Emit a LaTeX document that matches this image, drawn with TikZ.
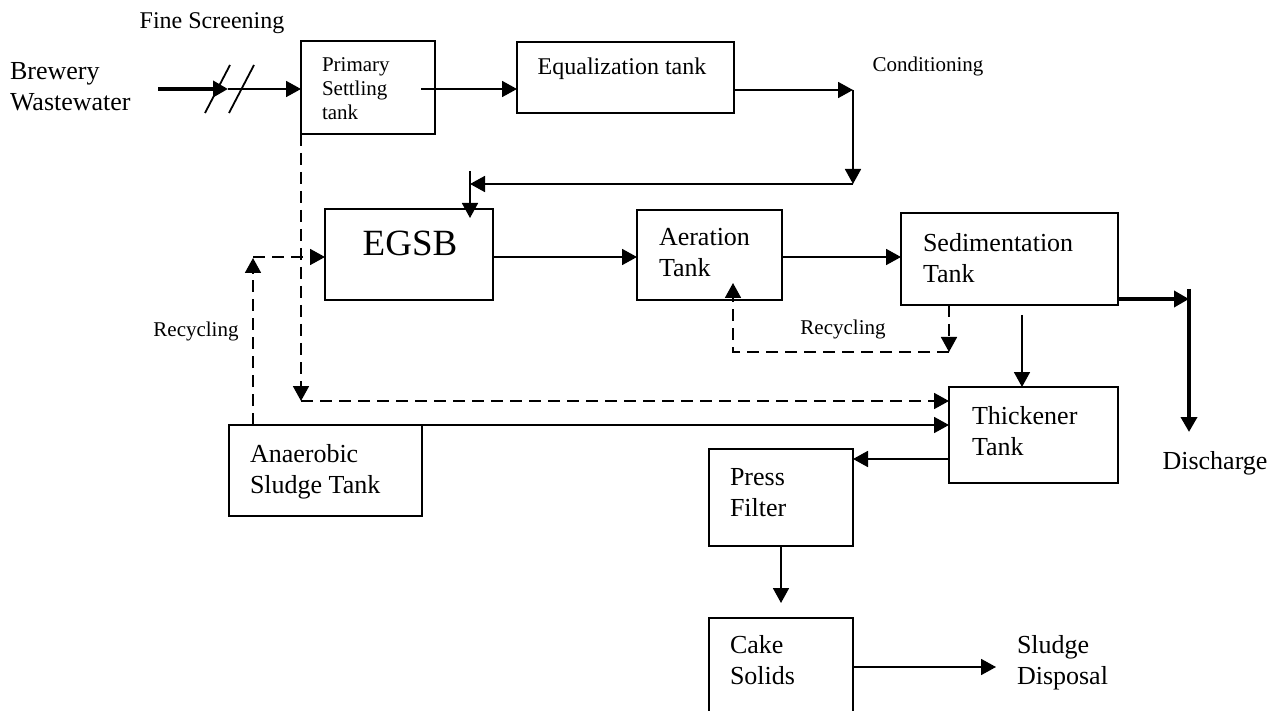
\documentclass[tikz,border=0pt]{standalone}
\usepackage{fontspec}
\setmainfont{Liberation Serif}
\usetikzlibrary{arrows.meta}
\begin{document}
\begin{tikzpicture}[x=1pt,y=-1pt,
  box/.style={draw, line width=1.8pt, inner sep=0pt, outer sep=0pt, anchor=north west},
  big/.style={inner sep=0pt, outer sep=0pt, align=left, font=\fontsize{26}{31}\selectfont},
  small/.style={inner sep=0pt, outer sep=0pt, align=left, font=\fontsize{21}{24}\selectfont},
  arr/.style={line width=1.8pt, -{Triangle[length=15pt,width=16pt]}},
  thickarr/.style={line width=3.6pt, -{Triangle[length=15pt,width=16pt]}},
  darr/.style={line width=1.8pt, dash pattern=on 12pt off 7pt, -{Triangle[length=15pt,width=16pt]}},
  plain/.style={line width=1.8pt}]
\fill[white] (0,0) rectangle (1288,711);
\useasboundingbox (0,0) rectangle (1288,711);

% boxes
\node[box, minimum width=134pt, minimum height=93pt] (prim) at (301,41) {};
\node[box, minimum width=217pt, minimum height=71pt] (eq) at (517,42) {};
\node[box, minimum width=168pt, minimum height=91pt] (egsb) at (325,209) {};
\node[box, minimum width=145pt, minimum height=90pt] (aer) at (637,210) {};
\node[box, minimum width=217pt, minimum height=92pt] (sed) at (901,213) {};
\node[box, minimum width=169pt, minimum height=96pt] (thk) at (949,387) {};
\node[box, minimum width=193pt, minimum height=91pt] (ana) at (229,425) {};
\node[box, minimum width=144pt, minimum height=97pt] (press) at (709,449) {};
\node[box, minimum width=144pt, minimum height=120pt] (cake) at (709,618) {};

% texts
\node[big, anchor=north west] (tbw) at (10,62) {\fontsize{26}{27}\selectfont Brewery\\Wastewater};
\node[big, anchor=north, font=\fontsize{24}{28}\selectfont] (tfs) at (212,13) {Fine Screening};
\node[small, anchor=north west] (tprim) at (322,58) {Primary\\Settling\\tank};
\node[big, anchor=north, font=\fontsize{24}{28}\selectfont] (teq) at (622,58) {Equalization tank};
\node[small, anchor=north] (tcond) at (928,57) {Conditioning};
\node[inner sep=0pt, font=\fontsize{37}{40}\selectfont] (tegsb) at (410,243) {EGSB};
\node[big, anchor=north west] (taer) at (659,228) {Aeration\\Tank};
\node[big, anchor=north west] (tsed) at (923,233) {Sedimentation\\Tank};
\node[small, anchor=north] (trec1) at (196,322) {Recycling};
\node[small, anchor=north] (trec2) at (843,320) {Recycling};
\node[big, anchor=north west] (tthk) at (972,406) {Thickener\\Tank};
\node[big, anchor=north west] (tana) at (250,444) {Anaerobic\\Sludge Tank};
\node[big, anchor=north] (tdis) at (1215,451) {Discharge};
\node[big, anchor=north west] (tpress) at (730,468) {Press\\Filter};
\node[big, anchor=north west] (tcake) at (730,635) {Cake\\Solids};
\node[big, anchor=north west] (tslu) at (1017,635) {Sludge\\Disposal};

% screening
\coordinate (bw) at (158,89);
\coordinate (scr) at (228,89);
\draw[thickarr] (bw) -- (scr);
\draw[arr] (scr) -- (prim.west |- scr);
\draw[plain] (205,113) -- (230,65);
\draw[plain] (229,113) -- (254,65);

% primary -> equalization
\coordinate (pe) at (421,89);
\draw[arr] (pe) -- (pe -| eq.west);

% equalization -> conditioning -> EGSB
\coordinate (c1) at (853,90);
\coordinate (c2) at (853,184);
\coordinate (c3) at (470,184);
\coordinate (c4) at (470,171);
\coordinate (c5) at (470,218);
\draw[arr] (eq.east |- c1) -- (c1);
\draw[arr] (c1) -- (c2);
\draw[arr] (c2) -- (c3);
\draw[arr] (c4) -- (c5);

% main line
\coordinate (ml) at (0,257);
\draw[arr] (egsb.east |- ml) -- (aer.west |- ml);
\draw[arr] (aer.east |- ml) -- (sed.west |- ml);

% discharge
\coordinate (d1) at (1189,299);
\coordinate (d2) at (1189,289);
\coordinate (d3) at (1189,432);
\draw[thickarr] (sed.east |- d1) -- (d1);
\draw[thickarr] (d2) -- (d3);

% sedimentation -> thickener
\coordinate (st) at (1022,315);
\draw[arr] (st) -- (st |- thk.north);

% recycling to aeration
\coordinate (r1) at (949,352);
\coordinate (r2) at (733,283);
\draw[darr] (sed.south -| r1) -- (r1);
\draw[darr] (r1) -- (r1 -| r2) -- (r2);

% primary sludge -> thickener
\coordinate (q1) at (301,401);
\draw[darr] (prim.south west) -- (q1);
\draw[darr] (q1) -- (q1 -| thk.west);

% anaerobic recycling -> EGSB
\coordinate (a1) at (253,258);
\draw[darr] (ana.north -| a1) -- (a1);
\draw[darr] (a1 |- ml) -- (egsb.west |- ml);

% anaerobic -> thickener
\draw[arr] (ana.north east) -- (ana.north east -| thk.west);

% thickener -> press -> cake -> disposal
\coordinate (tp) at (0,459);
\draw[arr] (thk.west |- tp) -- (press.east |- tp);
\coordinate (pc) at (781,603);
\draw[arr] (press.south) -- (pc);
\coordinate (cs) at (996,667);
\draw[arr] (cake.east |- cs) -- (cs);
\end{tikzpicture}
\end{document}
